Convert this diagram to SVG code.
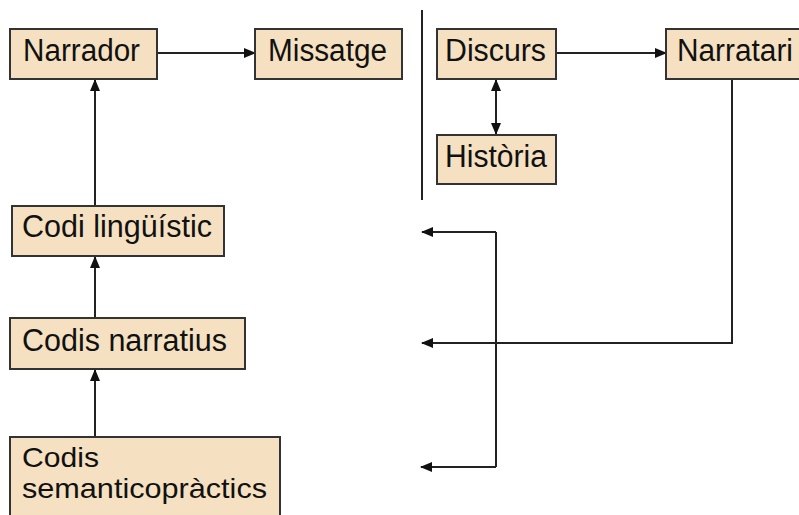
<svg xmlns="http://www.w3.org/2000/svg" width="799" height="515" viewBox="0 0 799 515">
<defs>
<marker id="ah" markerWidth="12" markerHeight="10" refX="11" refY="5" orient="auto-start-reverse" markerUnits="userSpaceOnUse">
<path d="M0,0 L12,5 L0,10 Z" fill="#111"/>
</marker>
<style>
.box{fill:#F5E1C1;stroke:#333;stroke-width:2}
.t{font-family:"Liberation Sans",Arial,sans-serif;font-size:31px;fill:#111}
.t2{font-size:28px}
.c{fill:none;stroke:#222;stroke-width:2}
</style>
</defs>
<rect width="799" height="515" fill="#fff"/>
<g id="connectors">
<line class="c" x1="157" y1="53" x2="255" y2="53" marker-end="url(#ah)"/>
<line class="c" x1="556" y1="53" x2="666" y2="53" marker-end="url(#ah)"/>
<line class="c" x1="496" y1="80" x2="496" y2="134" marker-start="url(#ah)" marker-end="url(#ah)"/>
<line class="c" x1="95" y1="205" x2="95" y2="80" marker-end="url(#ah)"/>
<line class="c" x1="95" y1="317" x2="95" y2="257" marker-end="url(#ah)"/>
<line class="c" x1="95" y1="436" x2="95" y2="370" marker-end="url(#ah)"/>
<line class="c" x1="422" y1="10" x2="422" y2="200"/>
<polyline class="c" points="732,79 732,343 422,343" marker-end="url(#ah)"/>
<polyline class="c" points="496,232 496,467"/>
<line class="c" x1="496" y1="232" x2="422" y2="232" marker-end="url(#ah)"/>
<line class="c" x1="496" y1="467" x2="421" y2="467" marker-end="url(#ah)"/>
</g>
<g id="narrador"><rect class="box" x="10" y="29" width="147" height="50"/><text class="t" x="23" y="61" textLength="117" lengthAdjust="spacingAndGlyphs">Narrador</text></g>
<g id="missatge"><rect class="box" x="255" y="29" width="147" height="50"/><text class="t" x="268" y="61" textLength="119" lengthAdjust="spacingAndGlyphs">Missatge</text></g>
<g id="discurs"><rect class="box" x="437" y="29" width="119" height="50"/><text class="t" x="445" y="61" textLength="101" lengthAdjust="spacingAndGlyphs">Discurs</text></g>
<g id="narratari"><rect class="box" x="666" y="29" width="150" height="50"/><text class="t" x="677" y="61" textLength="116" lengthAdjust="spacingAndGlyphs">Narratari</text></g>
<g id="historia"><rect class="box" x="437" y="135" width="119" height="49"/><text class="t" x="445" y="167" textLength="102" lengthAdjust="spacingAndGlyphs">Història</text></g>
<g id="codi-linguistic"><rect class="box" x="12" y="206" width="212" height="50"/><text class="t" x="22" y="237" textLength="190" lengthAdjust="spacingAndGlyphs">Codi lingüístic</text></g>
<g id="codis-narratius"><rect class="box" x="10" y="318" width="235" height="51"/><text class="t" x="22" y="351" textLength="205" lengthAdjust="spacingAndGlyphs">Codis narratius</text></g>
<g id="codis-semanticopractics"><rect class="box" x="10" y="437" width="270" height="84"/><text class="t t2" x="22" y="467" textLength="77" lengthAdjust="spacingAndGlyphs">Codis</text><text class="t t2" x="22" y="498" textLength="245" lengthAdjust="spacingAndGlyphs">semanticopràctics</text></g>
</svg>
